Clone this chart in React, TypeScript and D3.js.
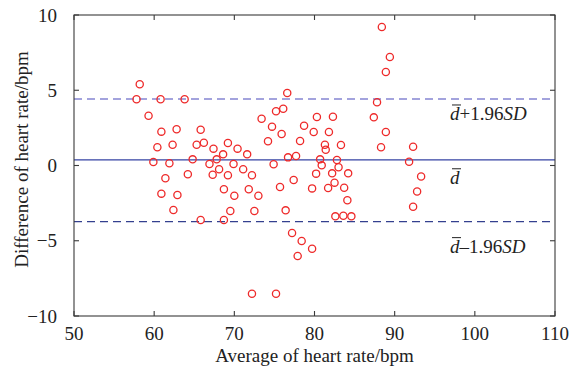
import React, { useEffect, useRef } from 'react'
import * as d3 from 'd3';

// Bland-Altman data: average and difference of heart rate (bpm)
const avgHR = [
  58.2, 57.8, 60.8, 63.8, 59.3, 60.9, 62.8, 60.4, 62.3, 59.9, 61.9, 61.4, 64.2, 64.8,
  76.6, 75.2, 76.1, 73.4, 74.7, 75.9, 78.7, 74.2, 78.2, 65.8, 65.3, 66.2, 69.2, 67.4,
  70.4, 68.6, 71.6, 67.8, 76.7, 77.7, 66.9, 69.9, 74.9, 68.1, 71.1, 67.3, 69.2, 72.2,
  77.4, 68.7, 71.8, 75.7, 88.9, 88.4, 89.4, 87.8, 87.4, 88.9, 88.3, 92.3, 91.8, 93.3,
  92.8, 92.3, 80.3, 82.3, 79.9, 81.8, 81.3, 81.4, 83.3, 80.7, 82.8, 80.9, 83.0, 80.2,
  82.2, 84.2, 82.5, 79.7, 81.7, 83.7, 60.9, 62.9, 62.4, 70.0, 73.0, 69.5, 72.5, 76.4,
  65.8, 68.7, 77.2, 78.4, 79.7, 77.9, 72.2, 75.2, 84.1, 82.6, 83.6, 84.6,
];
const diffHR = [
  5.40, 4.40, 4.40, 4.40, 3.31, 2.25, 2.41, 1.21, 1.38, 0.23, 0.15, -0.85, -0.58, 0.41,
  4.82, 3.60, 3.77, 3.11, 2.58, 2.09, 2.64, 1.61, 1.63, 2.38, 1.38, 1.51, 1.50, 1.12,
  1.12, 0.74, 0.74, 0.41, 0.54, 0.63, 0.10, 0.10, 0.08, -0.25, -0.25, -0.61, -0.65, -0.65,
  -0.96, -1.58, -1.58, -1.43, 6.21, 9.20, 7.21, 4.20, 3.20, 2.23, 1.21, 1.25, 0.25, -0.73,
  -1.73, -2.74, 3.22, 3.24, 2.23, 2.23, 1.38, 1.05, 1.36, 0.41, 0.37, 0.01, -0.12, -0.54,
  -0.52, -0.52, -1.14, -1.52, -1.50, -1.48, -1.87, -1.96, -2.96, -2.01, -2.01, -3.02, -3.02, -2.98,
  -3.62, -3.62, -4.49, -5.02, -5.53, -6.01, -8.52, -8.52, -2.31, -3.38, -3.34, -3.38,
];

const xTicks = [50, 60, 70, 80, 90, 100, 110];
const yTicks = [-10, -5, 0, 5, 10];

const meanDiff = 0.38;
const upperLoA = 4.42;
const lowerLoA = -3.73;

const FONT = '"Liberation Serif", "Times New Roman", serif';

const BlandAltman = ({ width = 582, height = 368 }) => {
  const ref = useRef(null);

  useEffect(() => {
    const margin = { top: 15, right: 27, bottom: 52, left: 74 };
    const x = d3.scaleLinear().domain([50, 110]).range([margin.left, width - margin.right]);
    const y = d3.scaleLinear().domain([-10, 10]).range([height - margin.bottom, margin.top]);
    const [x0, x1] = x.range();
    const [y0, y1] = y.range();

    const svg = d3.select(ref.current);
    svg.selectAll('*').remove();

    // reference lines
    svg.append('line')
      .attr('x1', x0).attr('x2', x1)
      .attr('y1', y(meanDiff)).attr('y2', y(meanDiff))
      .attr('stroke', '#3443a3').attr('stroke-width', 1.3);
    svg.append('line')
      .attr('x1', x0).attr('x2', x1)
      .attr('y1', y(upperLoA)).attr('y2', y(upperLoA))
      .attr('stroke', '#8585d2').attr('stroke-width', 1.6)
      .attr('stroke-dasharray', '8,5');
    svg.append('line')
      .attr('x1', x0).attr('x2', x1)
      .attr('y1', y(lowerLoA)).attr('y2', y(lowerLoA))
      .attr('stroke', '#34408f').attr('stroke-width', 1.3)
      .attr('stroke-dasharray', '8,5');

    // points
    svg.append('g')
      .selectAll('circle')
      .data(avgHR.map((v, i) => [v, diffHR[i]]))
      .enter()
      .append('circle')
      .attr('cx', d => x(d[0]))
      .attr('cy', d => y(d[1]))
      .attr('r', 3.6)
      .attr('fill', 'none')
      .attr('stroke', '#ee2a2a')
      .attr('stroke-width', 1.3);

    // frame + inward ticks
    const frameColor = '#3a3a3a';
    svg.append('rect')
      .attr('x', x0).attr('y', y1)
      .attr('width', x1 - x0).attr('height', y0 - y1)
      .attr('fill', 'none').attr('stroke', frameColor).attr('stroke-width', 1.1);

    const tickLen = 5;
    const ticks = svg.append('g').attr('stroke', frameColor).attr('stroke-width', 1.1);
    xTicks.forEach(t => {
      ticks.append('line').attr('x1', x(t)).attr('x2', x(t)).attr('y1', y0).attr('y2', y0 - tickLen);
      ticks.append('line').attr('x1', x(t)).attr('x2', x(t)).attr('y1', y1).attr('y2', y1 + tickLen);
    });
    yTicks.forEach(t => {
      ticks.append('line').attr('x1', x0).attr('x2', x0 + tickLen).attr('y1', y(t)).attr('y2', y(t));
      ticks.append('line').attr('x1', x1).attr('x2', x1 - tickLen).attr('y1', y(t)).attr('y2', y(t));
    });

    const fmt = t => (t < 0 ? '\u2212' + Math.abs(t) : String(t));

    svg.append('g')
      .selectAll('text')
      .data(xTicks)
      .enter()
      .append('text')
      .attr('x', d => x(d))
      .attr('y', y0 + 24)
      .attr('text-anchor', 'middle')
      .attr('font-family', FONT)
      .attr('font-size', 19)
      .attr('fill', '#222')
      .text(fmt);

    svg.append('g')
      .selectAll('text')
      .data(yTicks)
      .enter()
      .append('text')
      .attr('x', x0 - 17)
      .attr('y', d => y(d))
      .attr('dy', '0.35em')
      .attr('text-anchor', 'end')
      .attr('font-family', FONT)
      .attr('font-size', 19)
      .attr('fill', '#222')
      .text(fmt);

    // axis titles
    svg.append('text')
      .attr('x', (x0 + x1) / 2)
      .attr('y', height - 6)
      .attr('text-anchor', 'middle')
      .attr('font-family', FONT)
      .attr('font-size', 19)
      .attr('fill', '#222')
      .text('Average of heart rate/bpm');

    svg.append('text')
      .attr('transform', `translate(28, ${(y0 + y1) / 2 - 6}) rotate(-90)`)
      .attr('text-anchor', 'middle')
      .attr('font-family', FONT)
      .attr('font-size', 19)
      .attr('fill', '#222')
      .text('Difference of heart rate/bpm');

    // annotations: d-bar, d-bar +/- 1.96 SD
    const labels = [
      { value: upperLoA, suffix: '+1.96', dy: 21 },
      { value: meanDiff, suffix: '', dy: 24 },
      { value: lowerLoA, suffix: '\u20131.96', dy: 31 },
    ];
    const lx = 450;
    labels.forEach(l => {
      const base = y(l.value) + l.dy;
      const t = svg.append('text')
        .attr('x', lx)
        .attr('y', base)
        .attr('font-family', FONT)
        .attr('font-size', 19)
        .attr('fill', '#222');
      t.append('tspan').attr('font-style', 'italic').text('d');
      if (l.suffix) {
        t.append('tspan').text(l.suffix);
        t.append('tspan').attr('font-style', 'italic').text('SD');
      }
      svg.append('line')
        .attr('x1', lx + 2).attr('x2', lx + 11)
        .attr('y1', base - 15).attr('y2', base - 15)
        .attr('stroke', '#222').attr('stroke-width', 1);
    });
  }, [width, height]);

  return (
    <div style={{ position: 'absolute', left: 0, top: 0 }}>
      <svg ref={ref} width={width} height={height} style={{ display: 'block', background: '#fff' }}></svg>
    </div>
  );
};

export default function App() {
  return <BlandAltman />;
}
